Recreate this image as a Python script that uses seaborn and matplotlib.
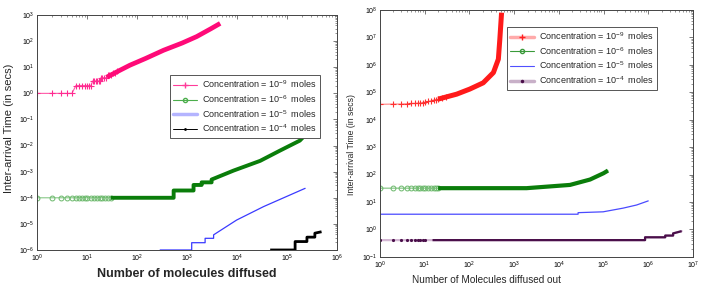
import matplotlib
matplotlib.use("Agg")
import numpy as np
import matplotlib.pyplot as plt
import seaborn as sns
from matplotlib.lines import Line2D
from matplotlib.ticker import LogLocator, NullFormatter

# SECTION - DATA
labels = [r"Concentration = 10$^{-9}$  moles", r"Concentration = 10$^{-6}$  moles",
          r"Concentration = 10$^{-5}$  moles", r"Concentration = 10$^{-4}$  moles"]

# Left panel: Number of molecules diffused vs inter-arrival time
pink_mark_x = [1, 2, 3, 4, 5, 6, 7, 8, 9, 10, 11, 12, 13, 14, 15, 16, 17, 18, 19, 20, 22, 24, 26, 28, 30, 33, 36, 40]
pink_mark_y = [1, 1, 1, 1, 1, 2, 2, 2, 2, 2, 2, 2, 3, 3, 3, 3, 3, 3, 4, 4, 4, 4, 5, 5, 5, 6, 6, 7]
pink_x = [25, 39, 72, 150, 340, 800, 1560, 3000, 4600]
pink_y = [4.2, 6.6, 12, 22, 45, 85, 150, 300, 480]

green_mark_x = [1, 2, 3, 4, 5, 6, 7, 8, 9, 10, 12, 14, 16, 18, 20, 23, 26, 30]
green_mark_y = [1e-4] * len(green_mark_x)
green_x = [1, 540, 540, 1350, 1350, 1960, 1960, 3100, 3100, 8500, 29000, 72000, 180000, 220000]
green_y = [1e-4, 1e-4, 1.9e-4, 1.9e-4, 3.1e-4, 3.1e-4, 3.9e-4, 3.9e-4, 5e-4, 1.1e-3, 2.6e-3, 6.4e-3, 1.55e-2, 2.3e-2]

blue_x = [290, 1240, 1240, 2300, 2300, 3400, 3400, 9800, 34000, 230000]
blue_y = [1e-6, 1e-6, 1.9e-6, 1.9e-6, 2.8e-6, 2.8e-6, 3.8e-6, 1.4e-5, 4.6e-5, 2.3e-4]

black_x = [46000, 145000, 145000, 250000, 250000, 360000, 360000, 490000]
black_y = [1e-6, 1e-6, 2.1e-6, 2.1e-6, 3.1e-6, 3.1e-6, 4.4e-6, 5e-6]

# Right panel: Number of molecules diffused out vs inter-arrival time
red_mark_x = [1, 2, 3, 4, 5, 6, 7, 8, 9, 10, 12, 14, 16, 18, 20, 25, 30]
red_mark_y = [3.6e4, 3.7e4, 3.7e4, 3.8e4, 3.9e4, 3.9e4, 4.0e4, 4.1e4, 4.2e4, 4.3e4,
              4.6e4, 4.9e4, 5.2e4, 5.4e4, 5.6e4, 6.0e4, 6.5e4]
red_x = [20, 52, 102, 204, 345, 445, 480, 525]
red_y = [5.6e4, 8.5e4, 1.3e5, 2.2e5, 5.2e5, 1.6e6, 8.5e6, 7.9e7]

dgreen_mark_x = [1, 2, 3, 4, 5, 6, 7, 8, 9, 10, 12, 14, 16, 18, 20]
dgreen_mark_y = [32] * len(dgreen_mark_x)
dgreen_x = [1, 1900, 17800, 50000, 100000, 126000]
dgreen_y = [32, 32, 42, 66, 112, 140]

rblue_x = [1, 27000, 27000, 98000, 275000, 550000, 1000000]
rblue_y = [3.6, 3.6, 4.1, 4.4, 6.0, 7.8, 11]

purple_mark_x = [1, 2, 3, 4, 5, 6, 7, 8, 9, 10]
purple_mark_y = [0.41] * len(purple_mark_x)
purple_x = [1, 850000, 850000, 2400000, 2400000, 3600000, 3600000, 5600000]
purple_y = [0.41, 0.41, 0.52, 0.52, 0.60, 0.60, 0.72, 0.87]
# !SECTION

sns.set_theme(style="white")
plt.rcParams["font.family"] = ["Liberation Sans", "DejaVu Sans"]
plt.rcParams["mathtext.default"] = "regular"


def line(ax, x, y, **kw):
    sns.lineplot(x=x, y=y, ax=ax, sort=False, estimator=None, **kw)


def style_axes(ax, xlim, ylim):
    ax.set_xscale("log")
    ax.set_yscale("log")
    ax.set_xlim(*xlim)
    ax.set_ylim(*ylim)
    for sp in ax.spines.values():
        sp.set_color("#444444")
        sp.set_linewidth(0.7)
    for axis in (ax.xaxis, ax.yaxis):
        axis.set_major_locator(LogLocator(base=10, numticks=20))
        axis.set_minor_locator(LogLocator(base=10, subs=np.arange(2, 10), numticks=20))
        axis.set_minor_formatter(NullFormatter())
    ax.tick_params(which="both", direction="in", top=True, right=True,
                   colors="#444444", labelcolor="black", labelsize=5, pad=2)
    ax.tick_params(which="major", length=3, width=0.5)
    ax.tick_params(which="minor", length=1.5, width=0.4)


fig = plt.figure(figsize=(7.01, 2.90), dpi=100)
ax_l = fig.add_axes([0.0528, 0.138, 0.428, 0.810])
ax_r = fig.add_axes([0.542, 0.114, 0.4465, 0.852])

# SECTION - LEFT PANEL
line(ax_l, pink_mark_x, pink_mark_y, color="#ff5aa8", lw=0.8, marker="+", ms=4.5,
     mec="#ff2a90", mew=0.8)
line(ax_l, pink_x, pink_y, color="#ff0a78", lw=3.4, solid_capstyle="butt")
line(ax_l, green_x, green_y, color="#88c888", lw=0.8)
line(ax_l, green_mark_x, green_mark_y, color="#88c888", lw=0, marker="o", ms=3.5,
     mfc="none", mec="#6ab86a", mew=0.7)
line(ax_l, [30] + green_x[1:], [1e-4] + green_y[1:], color="#0a7d0a", lw=2.8, solid_capstyle="butt")
line(ax_l, blue_x, blue_y, color="#3a3aff", lw=0.9)
line(ax_l, black_x, black_y, color="black", lw=2.0, solid_capstyle="butt")

style_axes(ax_l, (1, 1e6), (1e-6, 1e3))
ax_l.set_xlabel("Number of molecules diffused", fontsize=9, fontweight="bold", labelpad=3)
ax_l.set_ylabel("Inter-arrival Time (in secs)", fontsize=8, labelpad=2)
ax_l.yaxis.set_label_coords(-0.078, 0.52)

handles_l = [
    Line2D([], [], color="#ff3c9a", lw=0.8, marker="+", ms=4),
    Line2D([], [], color="#4cae4c", lw=0.8, marker="o", ms=3, mfc="none"),
    Line2D([], [], color="#b4b4ff", lw=2.5),
    Line2D([], [], color="black", lw=0.7, marker=".", ms=2),
]
leg = ax_l.legend(handles_l, labels, loc="upper left", bbox_to_anchor=(0.443, 0.745),
                  fontsize=6.5, frameon=True, fancybox=False, edgecolor="#555555",
                  framealpha=1, borderpad=0.35, labelspacing=0.35, handlelength=2.6,
                  handletextpad=0.6, borderaxespad=0)
leg.get_frame().set_linewidth(0.7)
# !SECTION

# SECTION - RIGHT PANEL
line(ax_r, red_mark_x, red_mark_y, color="#ff9a9a", lw=1.0, marker="+", ms=4.5,
     mec="#ff3030", mew=0.8)
line(ax_r, red_x, red_y, color="#ff1a1a", lw=3.6, solid_capstyle="butt")
line(ax_r, dgreen_x, dgreen_y, color="#7cc07c", lw=0.8)
line(ax_r, dgreen_mark_x, dgreen_mark_y, color="#6ab86a", lw=0, marker="o", ms=3.5,
     mfc="none", mec="#6ab86a", mew=0.7)
line(ax_r, [20] + dgreen_x[1:], [32] + dgreen_y[1:], color="#0a7d0a", lw=3.0, solid_capstyle="butt")
line(ax_r, rblue_x, rblue_y, color="#4a4aff", lw=0.9)
line(ax_r, purple_x, purple_y, color="#d4b8d4", lw=1.6)
line(ax_r, purple_mark_x, purple_mark_y, color="#4a0f4a", lw=0, marker=".", ms=3,
     mec="#4a0f4a", mfc="#4a0f4a")
line(ax_r, [15] + purple_x[1:], purple_y, color="#4a0f4a", lw=1.6, solid_capstyle="butt")

style_axes(ax_r, (1, 1e7), (1e-1, 1e8))
ax_r.set_xlabel("Number of Molecules diffused out", fontsize=7.2, labelpad=1)
ax_r.xaxis.set_label_coords(0.34, -0.075)
ax_r.set_ylabel("Inter-arrival Time (in secs)", fontsize=6.2, labelpad=8)
ax_r.yaxis.set_label_coords(-0.075, 0.455)

handles_r = [
    Line2D([], [], color="#ffaaaa", lw=2.5, marker="+", ms=4, mec="#ff2020"),
    Line2D([], [], color="#3a9a3a", lw=0.8, marker="o", ms=3, mfc="none"),
    Line2D([], [], color="#5050ff", lw=0.8),
    Line2D([], [], color="#c8b0c8", lw=2.5, marker=".", ms=3, mec="#4a0f4a", mfc="#4a0f4a"),
]
leg = ax_r.legend(handles_r, labels, loc="upper left", bbox_to_anchor=(0.406, 0.931),
                  fontsize=6.5, frameon=True, fancybox=False, edgecolor="#555555",
                  framealpha=1, borderpad=0.35, labelspacing=0.35, handlelength=2.6,
                  handletextpad=0.6, borderaxespad=0)
leg.get_frame().set_linewidth(0.7)
# !SECTION

fig.savefig("out.png", dpi=100)
